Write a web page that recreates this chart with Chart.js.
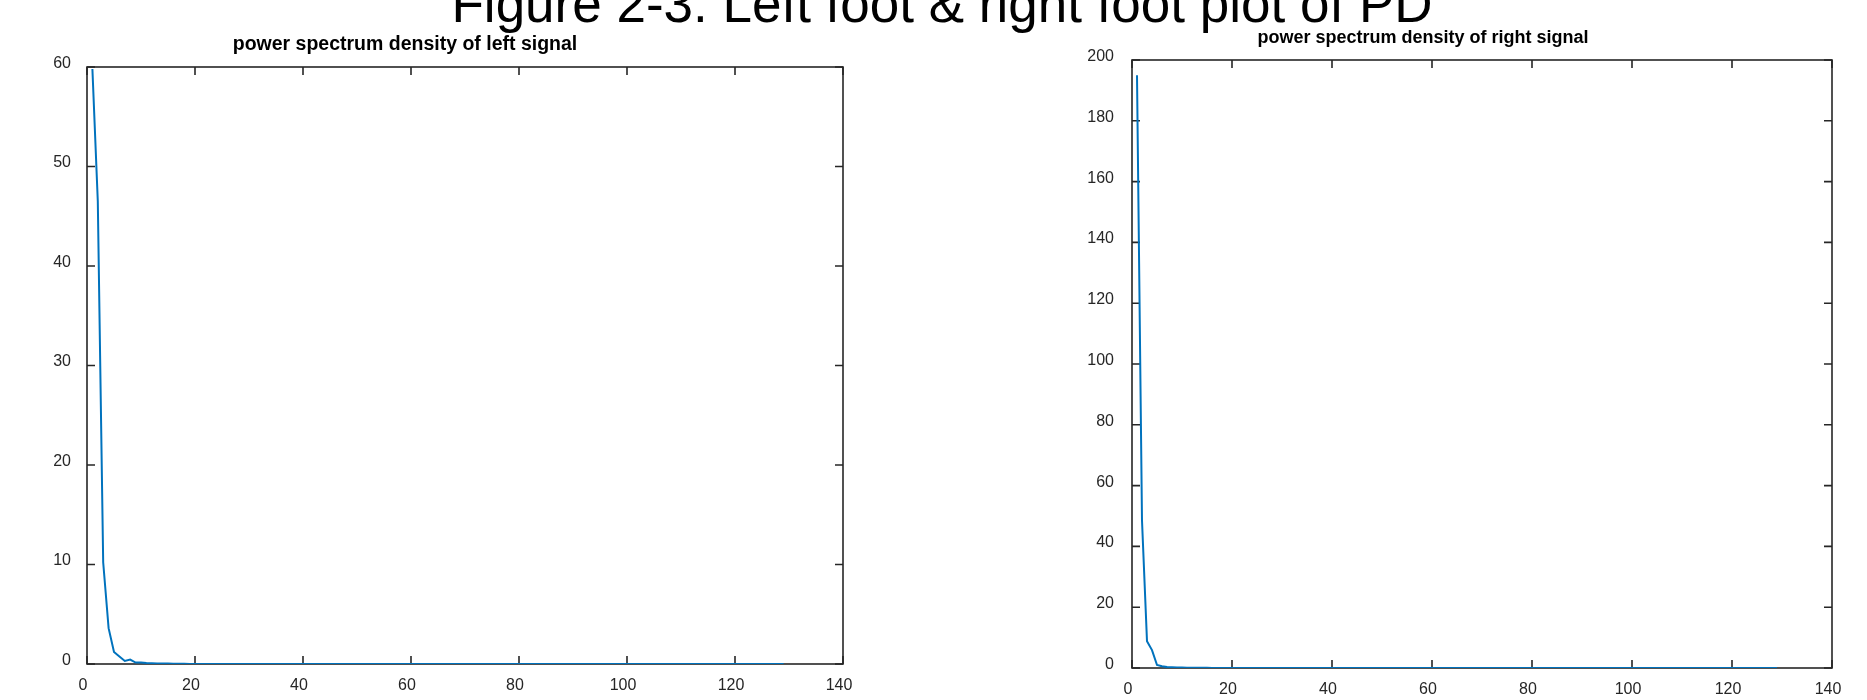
<!DOCTYPE html>
<html>
<head>
<meta charset="utf-8">
<script src="https://cdn.jsdelivr.net/npm/chart.js@4.4.1/dist/chart.umd.min.js"></script>
<style>
  html, body { margin: 0; padding: 0; background: #fff; overflow: hidden; }
  #page { position: relative; width: 1867px; height: 700px; }
  #suptitle {
    position: absolute; left: 942px; top: -23px; transform: translateX(-50%);
    font: 53px/53px "Liberation Sans", Arial, Helvetica, sans-serif;
    color: #000; white-space: nowrap;
  }
  canvas { position: absolute; top: 0; }
</style>
</head>
<body>
<div id="page">
  <canvas id="leftChart" width="933" height="700" style="left:0"></canvas>
  <canvas id="rightChart" width="934" height="700" style="left:933px"></canvas>
  <div id="suptitle">Figure 2-3. Left foot &amp; right foot plot of PD</div>
</div>
<script>
// tick labels
let xTicks = [0, 20, 40, 60, 80, 100, 120, 140];
let leftYTicks = [0, 10, 20, 30, 40, 50, 60];
let rightYTicks = [0, 20, 40, 60, 80, 100, 120, 140, 160, 180, 200];

// PSD values, one per sample 1..129
let leftPSD = [
  59.8, 46.5, 10.2, 3.6, 1.2, 0.75, 0.3, 0.45, 0.15, 0.15, 0.1, 0.08, 0.06, 0.05, 0.04, 0.03, 0.02, 0.02, 0.01, 0.01,
  0, 0, 0, 0, 0, 0, 0, 0, 0, 0, 0, 0, 0, 0, 0, 0, 0, 0, 0, 0,
  0, 0, 0, 0, 0, 0, 0, 0, 0, 0, 0, 0, 0, 0, 0, 0, 0, 0, 0, 0,
  0, 0, 0, 0, 0, 0, 0, 0, 0, 0, 0, 0, 0, 0, 0, 0, 0, 0, 0, 0,
  0, 0, 0, 0, 0, 0, 0, 0, 0, 0, 0, 0, 0, 0, 0, 0, 0, 0, 0, 0,
  0, 0, 0, 0, 0, 0, 0, 0, 0, 0, 0, 0, 0, 0, 0, 0, 0, 0, 0, 0,
  0, 0, 0, 0, 0, 0, 0, 0, 0
];
let rightPSD = [
  195, 48.5, 8.8, 5.9, 1.0, 0.6, 0.3, 0.25, 0.2, 0.15, 0.12, 0.1, 0.08, 0.06, 0.05, 0.04, 0.03, 0.02, 0.02, 0.01,
  0, 0, 0, 0, 0, 0, 0, 0, 0, 0, 0, 0, 0, 0, 0, 0, 0, 0, 0, 0,
  0, 0, 0, 0, 0, 0, 0, 0, 0, 0, 0, 0, 0, 0, 0, 0, 0, 0, 0, 0,
  0, 0, 0, 0, 0, 0, 0, 0, 0, 0, 0, 0, 0, 0, 0, 0, 0, 0, 0, 0,
  0, 0, 0, 0, 0, 0, 0, 0, 0, 0, 0, 0, 0, 0, 0, 0, 0, 0, 0, 0,
  0, 0, 0, 0, 0, 0, 0, 0, 0, 0, 0, 0, 0, 0, 0, 0, 0, 0, 0, 0,
  0, 0, 0, 0, 0, 0, 0, 0, 0
];

const FONT = '"Liberation Sans", Arial, Helvetica, sans-serif';
const AXIS_COLOR = '#262626';

// matlab-ish box with inward ticks + offset subplot title
const matlabAxes = {
  id: 'matlabAxes',
  beforeDatasetsDraw(chart, args, opts) {
    const { ctx, chartArea: a, scales: { x, y } } = chart;
    ctx.save();
    ctx.strokeStyle = AXIS_COLOR;
    ctx.lineWidth = 1.6;
    ctx.strokeRect(a.left, a.top, a.width, a.height);
    ctx.beginPath();
    x.ticks.forEach(t => {
      const px = x.getPixelForValue(t.value);
      ctx.moveTo(px, a.bottom); ctx.lineTo(px, a.bottom - 8);
      ctx.moveTo(px, a.top); ctx.lineTo(px, a.top + 8);
    });
    y.ticks.forEach(t => {
      const py = y.getPixelForValue(t.value);
      ctx.moveTo(a.left, py); ctx.lineTo(a.left + 8, py);
      ctx.moveTo(a.right, py); ctx.lineTo(a.right - 8, py);
    });
    ctx.stroke();
    ctx.restore();
  },
  afterDraw(chart, args, opts) {
    const { ctx, chartArea: a } = chart;
    ctx.save();
    ctx.fillStyle = '#000';
    ctx.font = 'bold ' + opts.size + 'px ' + FONT;
    ctx.textAlign = 'center';
    ctx.textBaseline = 'alphabetic';
    ctx.fillText(opts.text, (a.left + a.right) / 2 + opts.dx, opts.baseline);
    ctx.restore();
  }
};

function makePSD(id, values, yTicks, yMax, cfg) {
  return new Chart(document.getElementById(id), {
    type: 'line',
    data: {
      datasets: [{
        data: values.map((v, i) => ({ x: i + 1, y: v })),
        borderColor: '#0072BD',
        borderWidth: 2,
        pointRadius: 0,
        tension: 0,
        fill: false
      }]
    },
    options: {
      responsive: false,
      animation: false,
      events: [],
      layout: { padding: cfg.padding },
      plugins: {
        legend: { display: false },
        tooltip: { enabled: false },
        matlabAxes: { text: cfg.title, size: cfg.titleSize, dx: cfg.titleDx, baseline: cfg.titleBaseline }
      },
      scales: {
        x: {
          type: 'linear', min: 0, max: 140,
          afterBuildTicks: s => { s.ticks = xTicks.map(v => ({ value: v })); },
          afterFit: s => { s.height = cfg.xHeight; },
          grid: { display: false, drawTicks: false },
          border: { display: false },
          ticks: { color: AXIS_COLOR, font: { family: FONT, size: 16 }, padding: cfg.xPad, labelOffset: -4, maxRotation: 0 }
        },
        y: {
          type: 'linear', min: 0, max: yMax,
          afterBuildTicks: s => { s.ticks = yTicks.map(v => ({ value: v })); },
          afterFit: s => { s.width = 60; },
          grid: { display: false, drawTicks: false },
          border: { display: false },
          ticks: { color: AXIS_COLOR, font: { family: FONT, size: 16 }, padding: cfg.yPad, labelOffset: -3.5 }
        }
      }
    },
    plugins: [matlabAxes]
  });
}

makePSD('leftChart', leftPSD, leftYTicks, 60, {
  padding: { left: 27, top: 67, right: 90, bottom: 0 },
  xHeight: 36, xPad: 12, yPad: 16,
  title: 'power spectrum density of left signal', titleSize: 19.5, titleDx: -60, titleBaseline: 50
});

makePSD('rightChart', rightPSD, rightYTicks, 200, {
  padding: { left: 139, top: 60, right: 35, bottom: 0 },
  xHeight: 32, xPad: 12, yPad: 18,
  title: 'power spectrum density of right signal', titleSize: 18, titleDx: -59, titleBaseline: 43
});
</script>
</body>
</html>
